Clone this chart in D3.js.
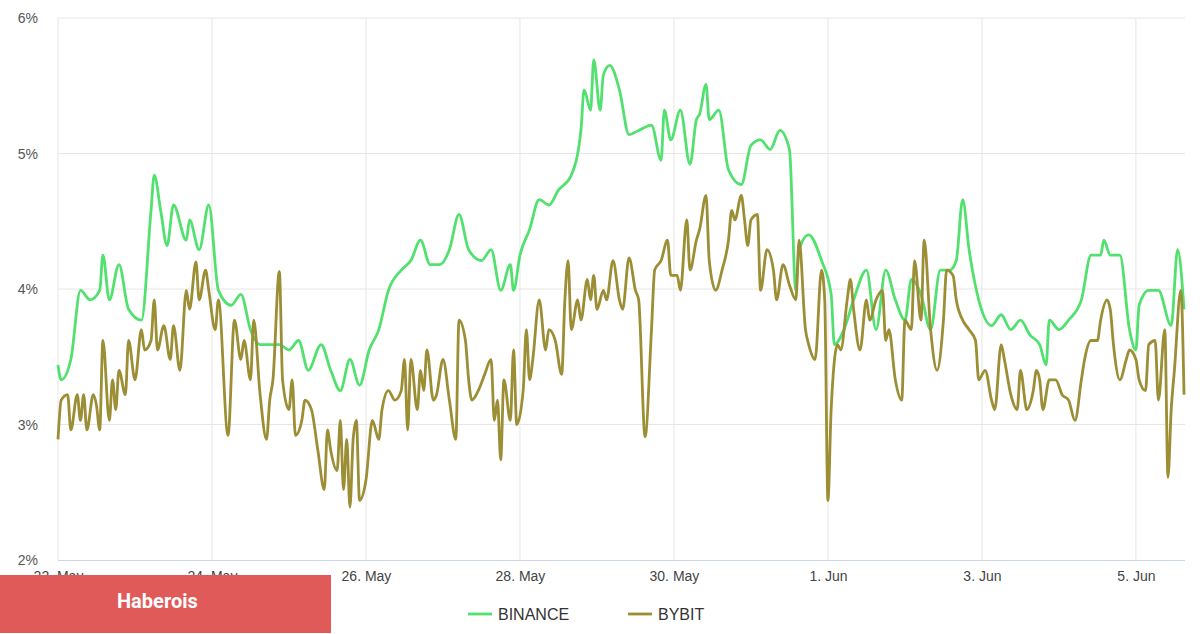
<!DOCTYPE html>
<html><head><meta charset="utf-8">
<script src="https://cdn.jsdelivr.net/npm/d3@7"></script>
<style>body{margin:0;background:#fff;font-family:"Liberation Sans",Arial,sans-serif}</style>
</head><body><svg id="c" width="1200" height="634"></svg>
<script>
const startDate = "2022-05-22T00:00:00Z";
const binanceHours = [0,1,4,7,10,13,14,16,19,22,26,29,30,32,34,36,40,41,44,47,50,54,57,60,63,66,69,72,75,78,82,85,88,91,94,97,100,103,107,110,113,116,119,122,125,128,132,135,138,141,142,144,147,150,153,156,160,163,164,166,167,169,170,172,175,178,181,185,188,189,191,194,197,199,200,202,203,206,209,213,216,219,222,225,228,230,231,234,238,241,242,245,248,252,255,258,261,264,266,269,272,275,278,280,282,284,287,291,294,297,300,303,306,308,309,312,315,319,322,325,326,328,331,334,336,337,340,343,347,349,351];
const binanceValues = [3.44,3.33,3.48,3.99,3.92,3.99,4.25,3.92,4.18,3.85,3.77,4.58,4.84,4.58,4.32,4.62,4.36,4.51,4.29,4.62,3.99,3.88,3.96,3.70,3.59,3.59,3.59,3.55,3.62,3.40,3.59,3.40,3.25,3.48,3.29,3.55,3.70,3.99,4.14,4.21,4.36,4.18,4.18,4.29,4.55,4.29,4.21,4.29,3.99,4.18,3.99,4.25,4.44,4.66,4.62,4.73,4.84,5.17,5.47,5.32,5.69,5.32,5.58,5.65,5.47,5.14,5.17,5.21,4.95,5.32,5.10,5.32,4.92,5.25,5.29,5.51,5.25,5.32,4.88,4.77,5.06,5.10,5.03,5.17,5.03,3.99,4.29,4.40,4.21,3.96,3.59,3.70,3.92,4.14,3.70,4.14,3.92,3.77,4.07,3.96,3.70,4.14,4.14,4.21,4.66,4.29,3.92,3.73,3.81,3.70,3.77,3.66,3.59,3.44,3.77,3.70,3.77,3.92,4.25,4.25,4.36,4.25,4.25,3.70,3.55,3.88,3.99,3.99,3.73,4.29,3.85];
const bybitHours = [0,1,3,4,6,7,8,9,11,12,13,14,16,17,18,19,21,22,24,26,27,29,30,31,33,35,36,38,40,41,43,44,46,47,49,50,53,55,57,58,60,61,63,65,66,67,69,70,72,73,74,76,77,79,81,83,84,85,87,88,89,90,91,92,93,94,96,98,100,101,103,105,107,108,109,110,112,113,114,115,117,118,120,122,124,125,127,128,129,131,133,135,136,137,138,139,141,142,143,145,146,147,148,150,152,153,155,157,158,159,160,162,163,165,166,167,168,170,171,173,175,176,178,180,181,183,185,186,188,190,191,193,194,196,197,199,200,202,203,205,207,209,210,211,213,214,215,216,218,219,221,223,224,226,228,230,231,233,234,236,238,239,240,241,243,244,246,247,248,250,252,253,255,257,258,259,261,263,264,266,267,269,270,272,274,276,277,279,280,282,284,286,287,289,291,292,294,295,297,299,300,302,304,305,306,307,309,311,313,315,317,319,320,322,324,325,327,328,329,331,333,334,336,337,339,340,342,343,345,346,347,348,350,351];
const bybitValues = [2.89,3.18,3.22,2.96,3.22,3.03,3.22,2.96,3.22,3.14,2.96,3.62,3.03,3.33,3.11,3.40,3.22,3.62,3.33,3.70,3.55,3.62,3.92,3.55,3.73,3.48,3.73,3.40,3.99,3.85,4.20,3.92,4.14,3.99,3.70,3.92,2.92,3.77,3.48,3.62,3.33,3.77,3.22,2.89,3.18,3.33,4.13,3.33,3.11,3.33,2.92,3.03,3.18,3.11,2.81,2.52,2.96,2.81,2.66,3.03,2.52,2.89,2.39,2.89,3.03,2.44,2.59,3.03,2.89,3.11,3.25,3.18,3.25,3.48,2.96,3.48,3.11,3.40,3.25,3.55,3.18,3.22,3.48,3.18,2.89,3.77,3.62,3.33,3.18,3.25,3.37,3.48,3.03,3.18,2.74,3.33,3.03,3.55,3.00,3.25,3.70,3.33,3.48,3.92,3.55,3.70,3.62,3.37,3.92,4.21,3.70,3.92,3.77,4.07,3.92,4.10,3.85,3.99,3.92,4.21,3.92,3.85,4.23,3.99,3.92,2.91,3.70,4.14,4.21,4.36,4.10,4.10,3.99,4.51,4.14,4.36,4.44,4.69,4.21,3.99,4.14,4.36,4.58,4.51,4.69,4.51,4.32,4.51,4.55,3.99,4.29,4.14,3.92,4.18,4.03,3.92,4.36,3.70,3.59,3.48,4.14,3.92,2.44,3.11,3.59,3.55,3.92,4.07,3.85,3.55,3.92,3.77,3.92,3.99,3.62,3.70,3.33,3.18,3.77,3.70,4.21,3.77,4.36,3.70,3.40,3.77,4.14,4.10,3.92,3.77,3.70,3.62,3.33,3.40,3.18,3.11,3.59,3.48,3.22,3.11,3.40,3.11,3.25,3.40,3.33,3.11,3.33,3.33,3.22,3.18,3.03,3.33,3.48,3.62,3.62,3.77,3.92,3.85,3.59,3.33,3.48,3.55,3.48,3.33,3.25,3.59,3.62,3.18,3.70,2.61,3.11,3.40,3.99,3.22];
const yTicks = [2,3,4,5,6];
const xTickDays = [0,2,4,6,8,10,12,14];
const xTickLabels = ["22. May","24. May","26. May","28. May","30. May","1. Jun","3. Jun","5. Jun"];
const seriesNames = ["BINANCE","BYBIT"];
const seriesColors = ["#52e06f","#9c8e35"];

const svg = d3.select("#c");
const t0 = new Date(startDate);
const hr = h => new Date(t0.getTime() + h*3600e3);
const x = d3.scaleUtc().domain([hr(0), hr(351.3)]).range([58,1185]);
const y = d3.scaleLinear().domain([2,6]).range([560,18]);

svg.append("g").selectAll("line").data(yTicks.slice(1)).join("line")
  .attr("x1",58).attr("x2",1185).attr("y1",d=>y(d)).attr("y2",d=>y(d))
  .attr("stroke","#e6e6e6");
svg.append("g").selectAll("line").data(xTickDays).join("line")
  .attr("x1",d=>x(hr(d*24))).attr("x2",d=>x(hr(d*24))).attr("y1",18).attr("y2",560)
  .attr("stroke","#e6e6e6");
svg.append("line").attr("x1",58).attr("x2",1185).attr("y1",560.5).attr("y2",560.5).attr("stroke","#ccd6eb");

svg.append("g").selectAll("text").data(yTicks).join("text")
  .attr("x",38).attr("y",d=>y(d)+5).attr("text-anchor","end")
  .attr("font-size",14).attr("fill","#555").text(d=>d+"%");

const xAxis = d3.axisBottom(x).tickValues(xTickDays.map(d=>hr(d*24)))
  .tickFormat((d,i)=>xTickLabels[i]).tickSize(0);
const gx = svg.append("g").attr("transform","translate(0,560)").call(xAxis);
gx.select(".domain").remove();
gx.selectAll("text").attr("font-size",14).attr("fill","#444").attr("dy","1.3em")
  .attr("font-family","Liberation Sans, Arial, sans-serif");

const line = d3.line().x(d=>x(hr(d[0]))).y(d=>y(d[1])).curve(d3.curveMonotoneX);
const bin = binanceHours.map((h,i)=>[h,binanceValues[i]]);
const byb = bybitHours.map((h,i)=>[h,bybitValues[i]]);
[bin,byb].forEach((s,i)=>{
  svg.append("path").datum(s).attr("d",line).attr("fill","none")
    .attr("stroke",seriesColors[i]).attr("stroke-width",2.8).attr("stroke-linejoin","round");
});

const lg = svg.append("g");
[[468,seriesNames[0]],[628,seriesNames[1]]].forEach(([lx,name],i)=>{
  lg.append("line").attr("x1",lx).attr("x2",lx+24).attr("y1",614).attr("y2",614)
    .attr("stroke",seriesColors[i]).attr("stroke-width",2.8);
  lg.append("text").attr("x",lx+30).attr("y",620).attr("font-size",16).attr("fill","#333").text(name);
});

svg.append("rect").attr("x",0).attr("y",575).attr("width",331).attr("height",58).attr("fill","#e05a5a");
svg.append("text").attr("x",117).attr("y",608).attr("font-size",20)
  .attr("font-weight","bold").attr("fill","#fff").attr("font-family","Roboto, sans-serif").text("Haberois");
</script></body></html>
